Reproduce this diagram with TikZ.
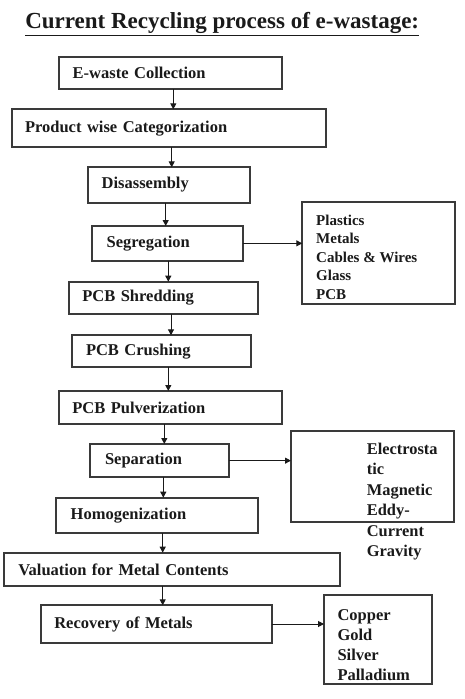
\documentclass[tikz,border=0pt]{standalone}
\usepackage{fontspec}
\setmainfont{Liberation Serif}
\usepackage{tikz}
\usetikzlibrary{arrows.meta, positioning}
\definecolor{mBorder}{HTML}{3A3A3A}
\definecolor{mInk}{HTML}{1A1A1A}
\tikzset{
    stage/.style={draw=mBorder, line width=1.7pt, rectangle, anchor=north west, align=left, inner ysep=0pt, outer sep=0pt, text=mInk, font=\bfseries\fontsize{16.5}{19}\selectfont},
    sidebox/.style={draw=mBorder, line width=1.7pt, rectangle, anchor=north west, inner sep=0pt, outer sep=0pt},
    sidelist/.style={anchor=base west, align=left, inner sep=0pt, text=mInk},
    flow/.style={draw=mInk, line width=1pt, -{Triangle[length=6pt, width=6pt]}}
}

\begin{document}
\begin{tikzpicture}[x=1pt, y=-1pt]
    \useasboundingbox[fill=white] (0,0) rectangle (465,699);
    \node[anchor=base, text=mInk, font=\bfseries\fontsize{23}{26}\selectfont] (title) at (222.2,28.5) {\underline{Current Recycling process of e-wastage:}};
    \node[stage, text width=195pt, inner xsep=14pt, minimum height=32pt] (collect) at (58.7,57.3) {E-waste Collection};
    \node[stage, text width=288.3pt, inner xsep=12.7pt, minimum height=38pt] (categorize) at (12.3,109.3) {Product wise Categorization};
    \node[stage, text width=134.9pt, inner xsep=13.4pt, minimum height=35.4pt] (disassemble) at (88.3,167.3) {Disassembly};
    \node[stage, text width=121.6pt, inner xsep=14.4pt, minimum height=34.7pt] (segregate) at (92.3,226) {Segregation};
    \node[stage, text width=163pt, inner xsep=13pt, minimum height=32.6pt] (shred) at (69.3,281.7) {PCB Shredding};
    \node[stage, text width=151pt, inner xsep=13.7pt, minimum height=32pt] (crush) at (72.3,335.3) {PCB Crushing};
    \node[stage, text width=196.1pt, inner xsep=13.6pt, minimum height=33.3pt] (pulverize) at (58.7,391) {PCB Pulverization};
    \node[stage, text width=109pt, inner xsep=14.7pt, minimum height=33.3pt] (separate) at (90.3,444) {Separation};
    \node[stage, text width=172.9pt, inner xsep=14.7pt, minimum height=35.6pt] (homogenize) at (56,497.7) {Homogenization};
    \node[stage, text width=307.4pt, inner xsep=14.3pt, minimum height=33.3pt] (valuate) at (4,552.7) {Valuation for Metal Contents};
    \node[stage, text width=203.8pt, inner xsep=13.6pt, minimum height=37.4pt] (recover) at (40.7,605.3) {Recovery of Metals};

    \node[sidebox, minimum width=152.7pt, minimum height=102pt] (materials) at (302.3,202) {};
    \node[sidelist, font=\bfseries\fontsize{15}{18.6}\selectfont] (materialsList) at (316,299.5) {Plastics\\Metals\\Cables \& Wires\\Glass\\PCB};
    \node[sidebox, minimum width=163pt, minimum height=91.3pt] (methods) at (291,430.7) {};
    \node[sidelist, font=\bfseries\fontsize{16.4}{20.5}\selectfont] (methodsList) at (366.7,556.5) {Electrosta\\tic\\Magnetic\\Eddy-\\Current\\Gravity};
    \node[sidebox, minimum width=108pt, minimum height=89pt] (metals) at (324,595) {};
    \node[sidelist, font=\bfseries\fontsize{16.5}{20}\selectfont] (metalsList) at (337.3,680) {Copper\\Gold\\Silver\\Palladium};

    \draw[flow] (collect.south -| 173.3,0) -- (categorize.north -| 173.3,0);
    \draw[flow] (categorize.south -| 171.7,0) -- (disassemble.north -| 171.7,0);
    \draw[flow] (disassemble.south -| 165.7,0) -- (segregate.north -| 165.7,0);
    \draw[flow] (segregate.south -| 168.3,0) -- (shred.north -| 168.3,0);
    \draw[flow] (shred.south -| 171,0) -- (crush.north -| 171,0);
    \draw[flow] (crush.south -| 168.3,0) -- (pulverize.north -| 168.3,0);
    \draw[flow] (pulverize.south -| 164.3,0) -- (separate.north -| 164.3,0);
    \draw[flow] (separate.south -| 163.3,0) -- (homogenize.north -| 163.3,0);
    \draw[flow] (homogenize.south -| 162.7,0) -- (valuate.north -| 162.7,0);
    \draw[flow] (valuate.south -| 162.7,0) -- (recover.north -| 162.7,0);
    \draw[flow] (segregate.east) -- (segregate.east -| materials.west);
    \draw[flow] (separate.east) -- (separate.east -| methods.west);
    \draw[flow] (recover.east) -- (recover.east -| metals.west);
\end{tikzpicture}
\end{document}
